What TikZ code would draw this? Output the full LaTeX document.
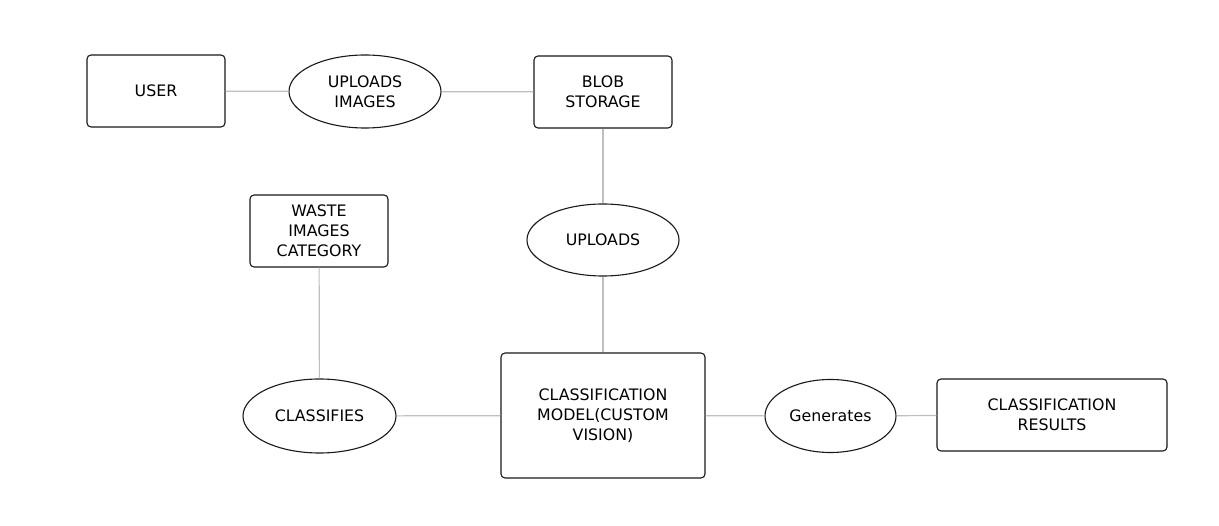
\documentclass[tikz,border=0pt]{standalone}
\usepackage{fontspec}
\setmainfont{DejaVu Sans}
\usetikzlibrary{shapes.geometric}
\begin{document}
\begin{tikzpicture}[x=1pt,y=-1pt,
		box/.style={draw=black!90, rounded corners=4pt, line width=1.1pt, align=center,
			inner sep=0pt, font=\fontsize{15.8}{20}\selectfont},
		act/.style={draw=black!90, ellipse, line width=1.1pt, align=center,
			inner sep=0pt, font=\fontsize{15.8}{20}\selectfont},
		link/.style={draw=black!25, line width=1.2pt}]
		\useasboundingbox[fill=white] (0,0) rectangle (1219,526);

		% Top row
		\node[box, minimum width=138pt, minimum height=72pt] (user) at (156,91) {USER};
		\node[act, minimum width=152pt, minimum height=73pt] (upimg) at (365,91.5) {UPLOADS\\IMAGES};
		\node[box, minimum width=138pt, minimum height=72pt] (blob) at (603,92) {BLOB\\STORAGE};

		% Middle
		\node[act, minimum width=152pt, minimum height=72pt] (uploads) at (603,240) {UPLOADS};
		\node[box, minimum width=138pt, minimum height=72pt] (waste) at (319,231) {WASTE\\IMAGES\\CATEGORY};

		% Bottom row
		\node[act, minimum width=153pt, minimum height=74pt] (classifies) at (319.5,416) {CLASSIFIES};
		\node[box, minimum width=204pt, minimum height=125pt] (model) at (603,415.5) {CLASSIFICATION\\MODEL(CUSTOM\\VISION)};
		\node[act, minimum width=131pt, minimum height=73pt] (gen) at (830.5,416) {Generates};
		\node[box, minimum width=230pt, minimum height=72pt] (results) at (1052,415) {CLASSIFICATION\\RESULTS};

		% Connectors
		\draw[link] (user) -- (upimg);
		\draw[link] (upimg) -- (blob);
		\draw[link] (blob) -- (uploads);
		\draw[link] (uploads) -- (model);
		\draw[link] (waste) -- (classifies);
		\draw[link] (classifies) -- (model);
		\draw[link] (model) -- (gen);
		\draw[link] (gen) -- (results);
	\end{tikzpicture}
\end{document}
